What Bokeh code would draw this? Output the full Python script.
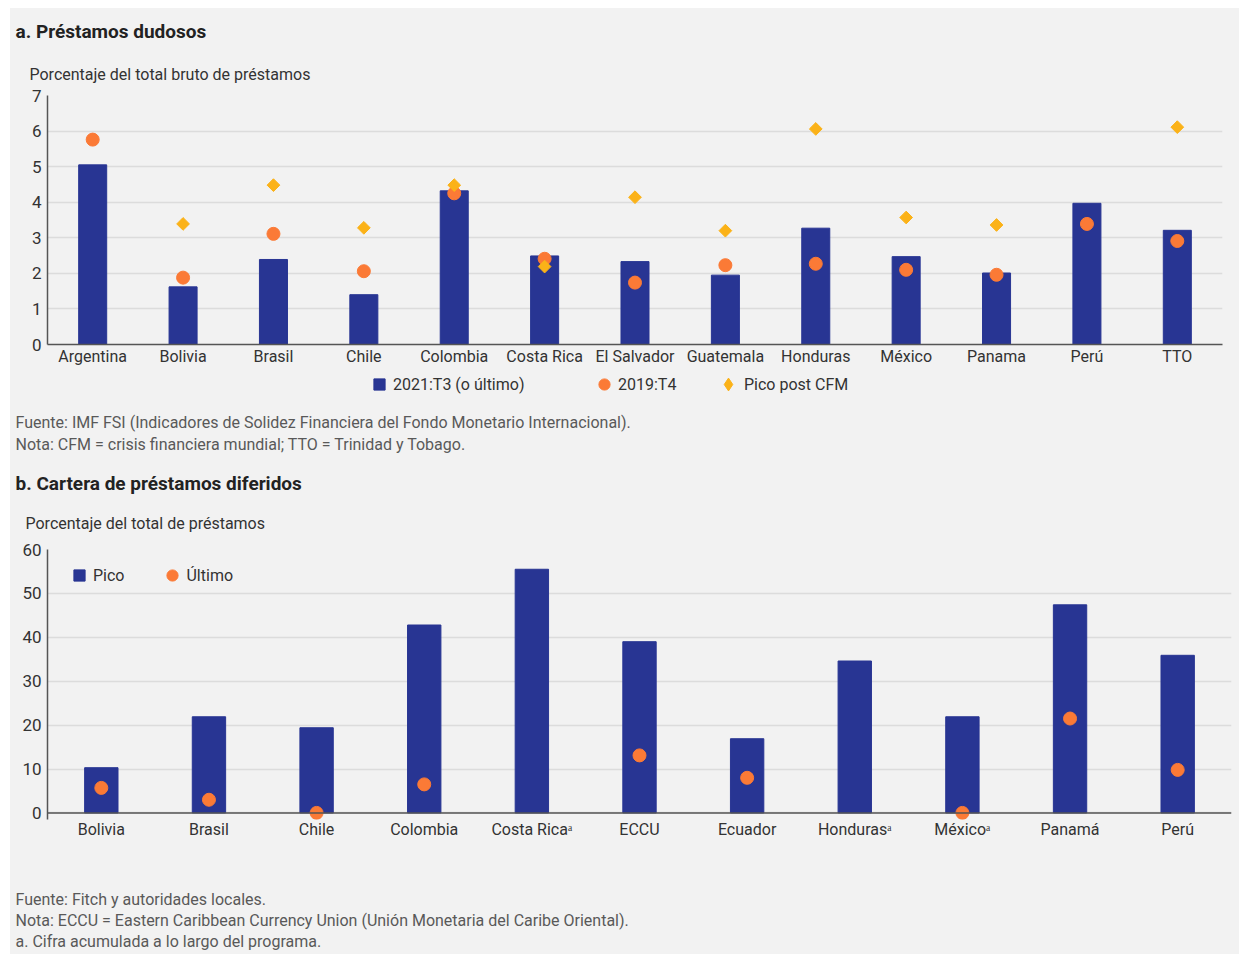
import math

from bokeh.plotting import figure
from bokeh.models import FactorRange, Range1d, Legend, LegendItem, Title, Span, Label
from bokeh.layouts import column
from bokeh.embed import file_html
from bokeh.resources import INLINE

nan = float("nan")

# Panel a: non-performing loans, % of gross loans
countries_a = ["Argentina", "Bolivia", "Brasil", "Chile", "Colombia", "Costa Rica",
               "El Salvador", "Guatemala", "Honduras", "México", "Panama", "Perú", "TTO"]
npl_2021t3 = [5.05, 1.62, 2.39, 1.40, 4.32, 2.49, 2.33, 1.95, 3.27, 2.47, 2.01, 3.97, 3.21]
npl_2019t4 = [5.76, 1.88, 3.11, 2.06, 4.25, 2.41, 1.74, 2.23, 2.27, 2.10, 1.96, 3.39, 2.91]
npl_peak_post_gfc = [nan, 3.39, 4.48, 3.28, 4.48, 2.19, 4.14, 3.20, 6.06, 3.57, 3.36, nan, 6.11]
ticks_a = [0, 1, 2, 3, 4, 5, 6, 7]

# Panel b: deferred loan portfolio, % of total loans
countries_b = ["Bolivia", "Brasil", "Chile", "Colombia", "Costa Ricaᵃ", "ECCU",
               "Ecuador", "Hondurasᵃ", "Méxicoᵃ", "Panamá", "Perú"]
deferred_peak = [10.3, 21.9, 19.4, 42.8, 55.5, 39.0, 16.9, 34.6, 21.9, 47.4, 35.9]
deferred_latest = [5.7, 3.0, 0.0, 6.5, nan, 13.1, 8.0, nan, 0.0, 21.5, 9.8]
ticks_b = [0, 10, 20, 30, 40, 50, 60]

notes_a = ["Fuente: IMF FSI (Indicadores de Solidez Financiera del Fondo Monetario Internacional).",
           "Nota: CFM = crisis financiera mundial; TTO = Trinidad y Tobago."]
notes_b = ["Fuente: Fitch y autoridades locales.",
           "Nota: ECCU = Eastern Caribbean Currency Union (Unión Monetaria del Caribe Oriental).",
           "a. Cifra acumulada a lo largo del programa."]

NAVY = "#283593"
ORANGE = "#fb7a36"
GOLD = "#fbb218"
BG = "#f2f2f2"
GRID = "#dcdcdc"
AXIS = "#555555"
TXT = "#333333"
NOTE = "#595959"
FONT = "Roboto"
LBL = "16px"
W = 1229


def style(p, ticks, x_standoff):
    p.frame_align = False
    p.background_fill_color = BG
    p.border_fill_color = BG
    p.outline_line_color = None
    p.xgrid.grid_line_color = None
    p.ygrid.grid_line_color = GRID
    p.ygrid.grid_line_width = 1.5
    p.yaxis.ticker = ticks
    for ax in (p.xaxis[0], p.yaxis[0]):
        ax.major_tick_line_color = None
        ax.minor_tick_line_color = None
        ax.axis_line_color = AXIS
        ax.axis_line_width = 1.5
        ax.major_label_text_font = FONT
        ax.major_label_text_font_size = LBL
        ax.major_label_text_color = TXT
    p.yaxis.major_tick_out = 0
    p.yaxis.major_tick_in = 0
    p.yaxis.major_label_standoff = 6
    p.yaxis.major_label_text_font_size = "17px"
    p.xaxis.major_label_standoff = x_standoff


def title(p, text, size, bold=False, offset=-32, standoff=2):
    p.add_layout(Title(text=text, align="left", offset=offset, text_font=FONT,
                       text_font_size=size, text_font_style="bold" if bold else "normal",
                       text_color="#222222" if bold else TXT, standoff=standoff), "above")


def legend(p, items, loc, spacing=0, box=28):
    p.add_layout(Legend(items=items, orientation="horizontal", location=loc,
                        glyph_width=box, glyph_height=box, spacing=spacing,
                        label_standoff=0, padding=0, margin=0,
                        background_fill_alpha=0, border_line_color=None,
                        label_text_font=FONT, label_text_font_size=LBL,
                        label_text_color=TXT), "center")


def strip(height, x_range=None, y_range=None):
    # borderless band that carries legends and source notes
    kw = {}
    if x_range is not None:
        kw = dict(x_range=x_range, y_range=y_range)
    s = figure(width=W, height=height, output_backend="svg", toolbar_location=None,
               x_axis_location=None, y_axis_location=None, min_border=0, **kw)
    s.frame_align = False
    s.background_fill_color = BG
    s.border_fill_color = BG
    s.outline_line_color = None
    s.grid.visible = False
    return s


def notes(s, lines, ys):
    for txt, y in zip(lines, ys):
        s.add_layout(Label(x=5, y=y, x_units="screen", y_units="screen", text=txt,
                           text_font=FONT, text_font_size=LBL, text_color=NOTE,
                           text_align="left", text_baseline="middle"))


# ---------- panel a ----------
pa = figure(width=W, height=360, x_range=FactorRange(*countries_a), y_range=Range1d(0, 7),
            output_backend="svg", toolbar_location=None,
            min_border_left=37, min_border_right=17, min_border_top=86, min_border_bottom=24)
style(pa, ticks_a, -4)

pa.vbar(x=countries_a, top=npl_2021t3, width=0.31, color=NAVY)
pa.scatter(x=countries_a, y=npl_2019t4, marker="circle", size=13, color=ORANGE)
pa.scatter(x=countries_a, y=npl_peak_post_gfc, marker="square", size=9,
           angle=math.pi / 4, color=GOLD)

title(pa, "Porcentaje del total bruto de préstamos", LBL, offset=-18, standoff=23)
title(pa, "a. Préstamos dudosos", "19px", bold=True, standoff=18)

# legend band + notes for panel a
la = strip(94, FactorRange(*countries_a), Range1d(0, 7))
sq_a = la.scatter(x=countries_a, y=npl_2021t3, marker="square", size=0, color=NAVY)
dot_a = la.scatter(x=countries_a, y=npl_2019t4, marker="circle", size=0, color=ORANGE)
dia_a = la.scatter(x=countries_a, y=npl_peak_post_gfc, marker="diamond", size=0, color=GOLD)
legend(la, [LegendItem(label="2021:T3 (o último)", renderers=[sq_a])], (355, 64))
legend(la, [LegendItem(label="2019:T4", renderers=[dot_a])], (580, 64))
legend(la, [LegendItem(label="Pico post CFM", renderers=[dia_a])], (702, 62), box=32)
notes(la, notes_a, [40, 18])

# ---------- panel b ----------
pb = figure(width=W, height=388, x_range=FactorRange(*countries_b), y_range=Range1d(-1.5, 60),
            output_backend="svg", toolbar_location=None,
            min_border_left=37, min_border_right=8, min_border_top=87, min_border_bottom=31)
style(pb, ticks_b, -6)
pb.xaxis.axis_line_color = None

pb.vbar(x=countries_b, top=deferred_peak, width=0.31, color=NAVY)
pb.add_layout(Span(location=0, dimension="width", line_color=AXIS, line_width=1.5))
sq_b = pb.scatter(x=countries_b, y=deferred_peak, marker="square", size=0, color=NAVY)
dot_b = pb.scatter(x=countries_b, y=deferred_latest, marker="circle", size=13, color=ORANGE)

legend(pb, [LegendItem(label="Pico", renderers=[sq_b]),
            LegendItem(label="Último", renderers=[dot_b])], (18, 230), spacing=34)

title(pb, "Porcentaje del total de préstamos", LBL, offset=-22, standoff=34)
title(pb, "b. Cartera de préstamos diferidos", "19px", bold=True, standoff=0)

nb = strip(104)
notes(nb, notes_b, [55, 34, 13])

layout = column(pa, la, pb, nb, spacing=0, margin=(8, 0, 0, 10),
                styles={"background-color": BG})
open("out.html", "w").write(file_html(layout, INLINE))
